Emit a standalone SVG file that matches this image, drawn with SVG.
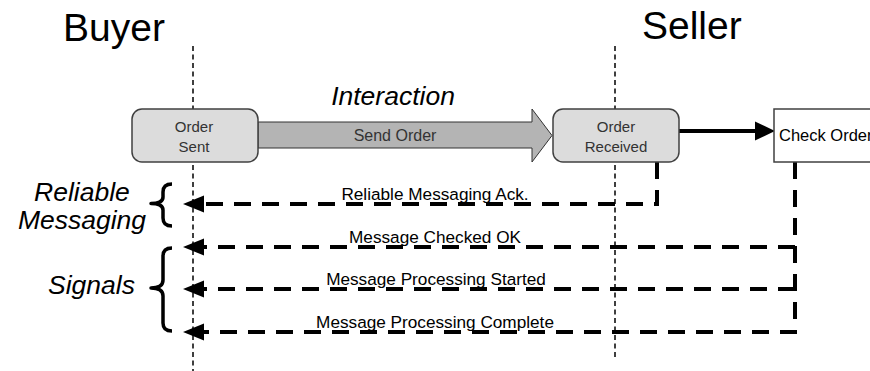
<svg xmlns="http://www.w3.org/2000/svg" width="870" height="371" viewBox="0 0 870 371">
  <style>
    text { font-family: "Liberation Sans", Arial, sans-serif; }
    .role { font-size: 39px; fill: #000; }
    .group { font-size: 26.5px; font-style: italic; fill: #000; }
    .box { fill: #dcdcdc; stroke: #404040; stroke-width: 1.5; }
    .task { fill: #fff; stroke: #404040; stroke-width: 1.5; }
    .btxt { font-size: 15px; fill: #333; text-anchor: middle; }
    .arrowtxt { font-size: 16px; fill: #333; text-anchor: middle; }
    .msg { font-size: 17.2px; fill: #000; text-anchor: middle; }
    .life { stroke: #000; stroke-width: 1.5; stroke-dasharray: 5 3.5; fill: none; }
    .ret { stroke: #000; stroke-width: 4; stroke-dasharray: 17 11; fill: none; }
    .brace { stroke: #000; stroke-width: 3.5; fill: none; stroke-linejoin: round; }
  </style>

  <!-- role headings -->
  <text class="role" x="63" y="41">Buyer</text>
  <text class="role" x="642" y="39">Seller</text>

  <!-- lifelines -->
  <g id="lifelines">
    <line class="life" x1="193" y1="46" x2="193" y2="371"/>
    <line class="life" x1="615" y1="46" x2="615" y2="360"/>
  </g>

  <!-- grouping braces and labels -->
  <g id="reliable-messaging">
    <path class="brace" d="M172,184 Q163,184 163,192 L163,197 Q163,203.5 151,203.5 Q163,203.5 163,210 L163,218 Q163,226 172,226"/>
    <text class="group" x="82" y="201" text-anchor="middle">Reliable</text>
    <text class="group" x="82" y="229" text-anchor="middle">Messaging</text>
  </g>
  <g id="signals">
    <path class="brace" d="M172,248 Q163,248 163,256 L163,280 Q163,288 151,288 Q163,288 163,296 L163,323 Q163,331 172,331"/>
    <text class="group" x="48" y="294">Signals</text>
  </g>

  <!-- connectors -->
  <g id="connectors">
    <!-- Send Order block arrow -->
    <polygon points="258,122 532,122 532,109 552,135.5 532,162 532,148 258,148" fill="#b4b4b4" stroke="#333" stroke-width="1"/>
    <text class="arrowtxt" x="395" y="141">Send Order</text>
    <text class="group" x="393" y="105" text-anchor="middle">Interaction</text>

    <!-- Order Received to Check Order -->
    <line x1="679" y1="131" x2="757" y2="131" stroke="#000" stroke-width="4"/>
    <polygon points="755,121.5 775,131 755,140.5" fill="#000"/>

    <!-- return signals -->
    <path class="ret" d="M657,162 L657,204 L203,204"/>
    <path class="ret" d="M795,162 L795,332 L203,332"/>
    <path class="ret" d="M795,247 L203,247"/>
    <path class="ret" d="M795,289 L203,289"/>
    <polygon points="183,204 204,195.5 204,212.5" fill="#000"/>
    <polygon points="183,247 204,238.5 204,255.5" fill="#000"/>
    <polygon points="183,289 204,280.5 204,297.5" fill="#000"/>
    <polygon points="183,332 204,323.5 204,340.5" fill="#000"/>

    <text class="msg" x="435" y="200">Reliable Messaging Ack.</text>
    <text class="msg" x="435" y="243">Message Checked OK</text>
    <text class="msg" x="436" y="285">Message Processing Started</text>
    <text class="msg" x="435" y="328">Message Processing Complete</text>
  </g>

  <!-- nodes -->
  <g id="order-sent">
    <rect class="box" x="132" y="109" width="126" height="53" rx="10"/>
    <text class="btxt" x="194" y="132">Order</text>
    <text class="btxt" x="194" y="152">Sent</text>
  </g>
  <g id="order-received">
    <rect class="box" x="553" y="109" width="126" height="53" rx="10"/>
    <text class="btxt" x="616" y="132">Order</text>
    <text class="btxt" x="616" y="152">Received</text>
  </g>
  <g id="check-order">
    <rect class="task" x="774" y="109" width="126" height="53"/>
    <text x="779" y="141" font-size="16.5" fill="#000">Check Order</text>
  </g>
</svg>
